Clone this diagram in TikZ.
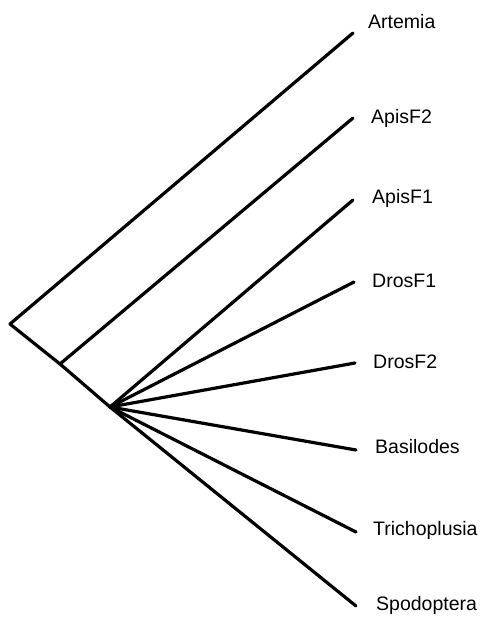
\documentclass[tikz,border=0pt]{standalone}
\usepackage{fontspec}
\setmainfont{Liberation Sans}
\usepackage{tikz}

\begin{document}
\begin{tikzpicture}[x=1pt,y=-1pt,
        branch/.style={line width=3.2pt,line cap=round,line join=round},
        taxon/.style={anchor=base west,inner sep=0pt,font=\fontsize{19.5}{22}\selectfont}]
            \useasboundingbox (0,0) rectangle (482,618);
            \coordinate (root) at (10,324);
            \coordinate (n2) at (60,364);
            \coordinate (n3) at (110,407);
            \coordinate (art) at (353,33);
            \coordinate (apis2) at (353,118);
            \coordinate (apis1) at (353,200);
            \coordinate (dros1) at (354,282);
            \coordinate (dros2) at (355,363);
            \coordinate (basi) at (356,450);
            \coordinate (trich) at (356,532);
            \coordinate (spod) at (356,606);
            \node (lart) at (368,29) [taxon] {Artemia};
            \node (lapis2) at (371,123) [taxon] {ApisF2};
            \node (lapis1) at (372,203) [taxon] {ApisF1};
            \node (ldros1) at (372,287) [taxon] {DrosF1};
            \node (ldros2) at (373,368) [taxon] {DrosF2};
            \node (lbasi) at (375,453) [taxon] {Basilodes};
            \node (ltrich) at (373,535) [taxon] {Trichoplusia};
            \node (lspod) at (376,610) [taxon] {Spodoptera};
            \draw[branch] (art) -- (root) -- (n2) -- (n3);
            \draw[branch] (n2) -- (apis2);
            \foreach \t in {apis1,dros1,dros2,basi,trich,spod}
                \draw[branch] (n3) -- (\t);
        \end{tikzpicture}
\end{document}
